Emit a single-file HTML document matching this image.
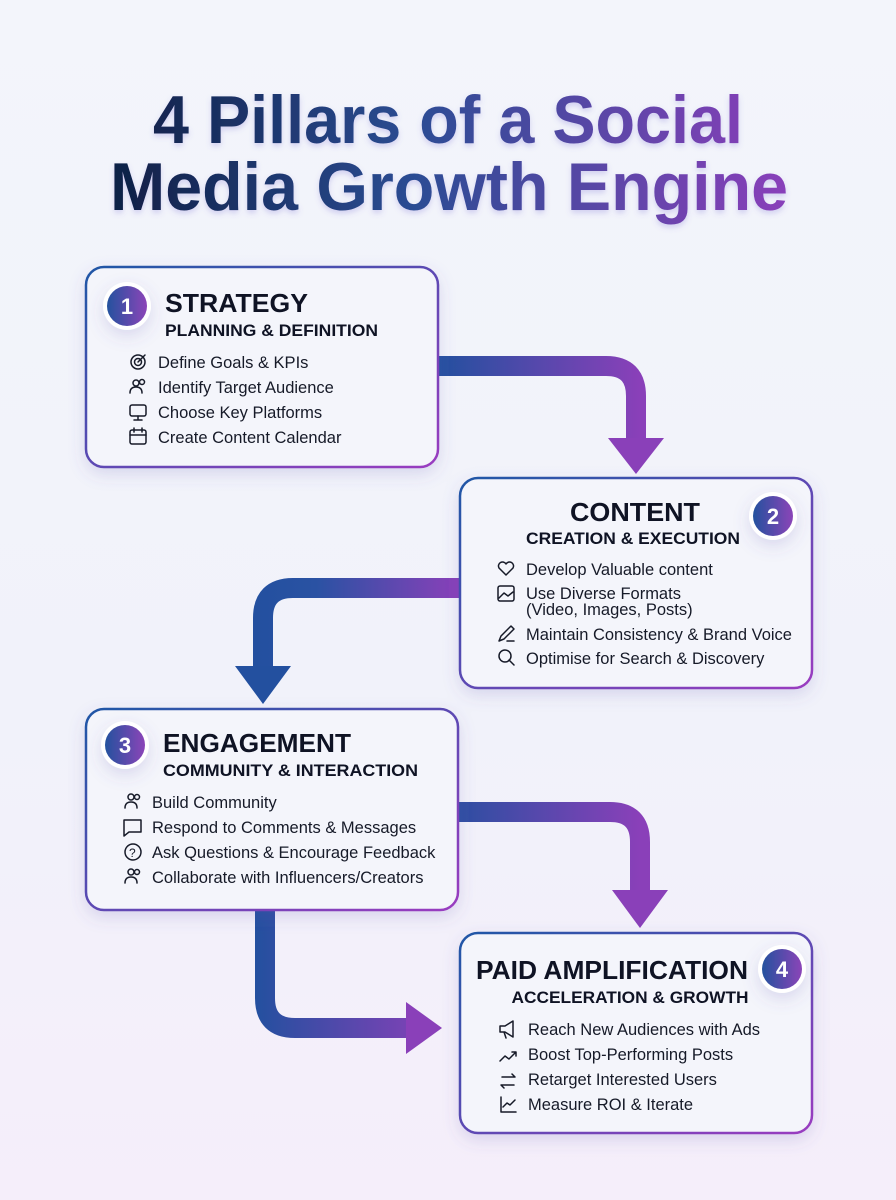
<!DOCTYPE html>
<html><head><meta charset="utf-8"><style>
html,body{margin:0;padding:0}
body{width:896px;height:1200px;overflow:hidden;background:linear-gradient(180deg,#f3f5fb 0%,#f1f2fa 60%,#f5eefa 100%);font-family:"Liberation Sans",sans-serif}
svg{display:block}
</style></head><body>
<svg width="896" height="1200" viewBox="0 0 896 1200" xmlns="http://www.w3.org/2000/svg" font-family="Liberation Sans, sans-serif">
<defs>
<linearGradient id="tg" x1="110" y1="0" x2="790" y2="0" gradientUnits="userSpaceOnUse"><stop offset="0" stop-color="#0f1f45"/><stop offset="0.45" stop-color="#2c4d94"/><stop offset="1" stop-color="#8a3fba"/></linearGradient>
<linearGradient id="bx" x1="0" y1="0" x2="1" y2="0"><stop offset="0" stop-color="#24529e"/><stop offset="1" stop-color="#8b44b8"/></linearGradient>
<linearGradient id="bd" x1="0" y1="0" x2="1" y2="1"><stop offset="0" stop-color="#1f57a6"/><stop offset="1" stop-color="#9a3cc0"/></linearGradient>
<linearGradient id="a1" x1="438" y1="0" x2="640" y2="0" gradientUnits="userSpaceOnUse"><stop offset="0" stop-color="#23509f"/><stop offset="1" stop-color="#8a40b9"/></linearGradient>
<linearGradient id="a2" x1="459" y1="0" x2="255" y2="0" gradientUnits="userSpaceOnUse"><stop offset="0" stop-color="#8a40b9"/><stop offset="0.7" stop-color="#2a52a3"/><stop offset="1" stop-color="#23509f"/></linearGradient>
<linearGradient id="a4" x1="255" y1="0" x2="442" y2="0" gradientUnits="userSpaceOnUse"><stop offset="0" stop-color="#23509f"/><stop offset="1" stop-color="#8a40b9"/></linearGradient>
<filter id="sh" x="-20%" y="-20%" width="140%" height="140%"><feDropShadow dx="0" dy="6" stdDeviation="8" flood-color="#5b4fb0" flood-opacity="0.18"/></filter>
<filter id="ts" x="-5%" y="-20%" width="110%" height="140%"><feDropShadow dx="0" dy="3" stdDeviation="3" flood-color="#6a5ad0" flood-opacity="0.25"/></filter>
</defs>

<text x="448" y="143" text-anchor="middle" font-size="68" font-weight="bold" fill="url(#tg)" textLength="590" lengthAdjust="spacingAndGlyphs" filter="url(#ts)">4 Pillars of a Social</text>
<text x="449" y="210" text-anchor="middle" font-size="68" font-weight="bold" fill="url(#tg)" textLength="678" lengthAdjust="spacingAndGlyphs" filter="url(#ts)">Media Growth Engine</text>

<!-- arrows -->
<g fill="none" stroke-width="20">
<path d="M436,366 H606 Q636,366 636,396 V442" stroke="url(#a1)"/>
<path d="M461,588 H293 Q263,588 263,618 V670" stroke="url(#a2)"/>
<path d="M456,812 H610 Q640,812 640,842 V894" stroke="url(#a1)"/>
<path d="M265,905 V998 Q265,1028 295,1028 H412" stroke="url(#a4)"/>
</g>
<polygon points="608,438 664,438 636,474" fill="#8a40b9"/>
<polygon points="235,666 291,666 263,704" fill="#23509f"/>
<polygon points="612,890 668,890 640,928" fill="#8a40b9"/>
<polygon points="406,1002 406,1054 442,1028" fill="#8a40b9"/>

<!-- boxes -->
<g fill="#f4f5fb" stroke="url(#bd)" stroke-width="2.5" filter="url(#sh)">
<rect x="86" y="267" width="352" height="200" rx="18"/>
<rect x="460" y="478" width="352" height="210" rx="18"/>
<rect x="86" y="709" width="372" height="201" rx="18"/>
<rect x="460" y="933" width="352" height="200" rx="18"/>
</g>

<!-- badges -->
<g filter="url(#sh)">
<circle cx="127" cy="306" r="24" fill="#fff"/><circle cx="127" cy="306" r="20" fill="url(#bx)"/>
<circle cx="773" cy="516" r="24" fill="#fff"/><circle cx="773" cy="516" r="20" fill="url(#bx)"/>
<circle cx="125" cy="745" r="24" fill="#fff"/><circle cx="125" cy="745" r="20" fill="url(#bx)"/>
<circle cx="782" cy="969" r="24" fill="#fff"/><circle cx="782" cy="969" r="20" fill="url(#bx)"/>
</g>
<g fill="#fff" font-size="22" font-weight="bold" text-anchor="middle">
<text x="127" y="314">1</text><text x="773" y="524">2</text><text x="125" y="753">3</text><text x="782" y="977">4</text>
</g>

<g fill="#0f1324" font-weight="bold">
<text x="165" y="312" font-size="26" textLength="143" lengthAdjust="spacingAndGlyphs">STRATEGY</text>
<text x="165" y="336" font-size="16.5" textLength="213" lengthAdjust="spacingAndGlyphs">PLANNING &amp; DEFINITION</text>
<text x="635" y="521" font-size="26" text-anchor="middle" textLength="130" lengthAdjust="spacingAndGlyphs">CONTENT</text>
<text x="633" y="544" font-size="16.5" text-anchor="middle" textLength="214" lengthAdjust="spacingAndGlyphs">CREATION &amp; EXECUTION</text>
<text x="163" y="752" font-size="26" textLength="188" lengthAdjust="spacingAndGlyphs">ENGAGEMENT</text>
<text x="163" y="776" font-size="16.5" textLength="255" lengthAdjust="spacingAndGlyphs">COMMUNITY &amp; INTERACTION</text>
<text x="612" y="979" font-size="26" text-anchor="middle" textLength="272" lengthAdjust="spacingAndGlyphs">PAID AMPLIFICATION</text>
<text x="630" y="1003" font-size="16.5" text-anchor="middle" textLength="237" lengthAdjust="spacingAndGlyphs">ACCELERATION &amp; GROWTH</text>
</g>

<g fill="#161a28" font-size="16.5">
<text x="158" y="368">Define Goals &amp; KPIs</text>
<text x="158" y="393">Identify Target Audience</text>
<text x="158" y="418">Choose Key Platforms</text>
<text x="158" y="443">Create Content Calendar</text>

<text x="526" y="575">Develop Valuable content</text>
<text x="526" y="599">Use Diverse Formats</text>
<text x="526" y="615">(Video, Images, Posts)</text>
<text x="526" y="640">Maintain Consistency &amp; Brand Voice</text>
<text x="526" y="664">Optimise for Search &amp; Discovery</text>

<text x="152" y="808">Build Community</text>
<text x="152" y="833">Respond to Comments &amp; Messages</text>
<text x="152" y="858">Ask Questions &amp; Encourage Feedback</text>
<text x="152" y="883">Collaborate with Influencers/Creators</text>

<text x="528" y="1035">Reach New Audiences with Ads</text>
<text x="528" y="1060">Boost Top-Performing Posts</text>
<text x="528" y="1085">Retarget Interested Users</text>
<text x="528" y="1110">Measure ROI &amp; Iterate</text>
</g>

<!-- icons -->
<g fill="none" stroke="#161a28" stroke-width="1.5" stroke-linecap="round" stroke-linejoin="round">
<circle cx="138" cy="362" r="7"/><circle cx="138" cy="362" r="3.5"/><path d="M138,362 L145,355"/>
<circle cx="136" cy="383" r="3"/><path d="M130,393 q0,-6 6,-6 q6,0 6,6"/><circle cx="142" cy="382" r="2.5"/>
<rect x="130" y="405" width="16" height="11" rx="2"/><path d="M138,416 V420 M134,420 H142"/>
<rect x="130" y="430" width="16" height="14" rx="2"/><path d="M130,435 H146 M134,428 V432 M142,428 V432"/>

<path d="M506,575 l-7,-7 a4,4 0 0,1 7,-4 a4,4 0 0,1 7,4 z"/>
<rect x="498" y="586" width="16" height="15" rx="2"/><path d="M499,598 l5,-5 4,3 5,-4"/>
<path d="M499,641 l2,-5 10,-10 3,3 -10,10 z M507,641 H514"/>
<circle cx="505" cy="656" r="6"/><path d="M509,660 L514,665"/>

<circle cx="131" cy="797" r="3"/><path d="M125,808 q0,-6 6,-6 q6,0 6,6"/><circle cx="137" cy="797" r="2.5"/>
<path d="M124,820 H141 V832 H129 L124,836 Z"/>
<circle cx="133" cy="852" r="8"/><text x="129" y="857" font-size="12" fill="#161a28" stroke="none">?</text>
<circle cx="131" cy="872" r="3"/><path d="M125,883 q0,-6 6,-6 q6,0 6,6"/><circle cx="137" cy="872" r="2.5"/>

<path d="M500,1026 H505 L513,1021 V1037 L505,1032 H500 Z M504,1032 L506,1038"/>
<path d="M500,1061 l5,-5 4,3 7,-7 M512,1052 H516 V1056"/>
<path d="M502,1077 H515 l-3,-3 M514,1085 H501 l3,3"/>
<path d="M501,1097 V1112 H516 M503,1107 l4,-4 3,2 5,-5"/>
</g>
</svg>
</body></html>
